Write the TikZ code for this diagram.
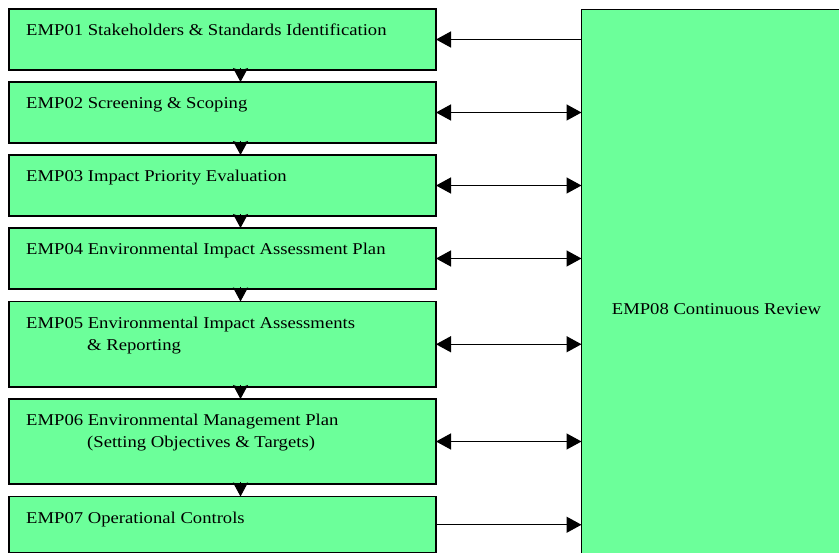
\documentclass[tikz,border=0pt]{standalone}
\usepackage{fontspec}
\setmainfont{Liberation Serif}[FakeStretch=1.13]
\usetikzlibrary{arrows.meta}
\definecolor{empgreen}{RGB}{108,255,154}
\tikzset{
  empbox/.style={draw=black, line width=1.5pt, fill=empgreen, minimum width=427pt,
    anchor=north west, inner sep=0pt, outer sep=0pt},
  emplabel/.style={anchor=north west, inner sep=0pt, align=left, xshift=17pt, yshift=-15pt,
    font=\fontsize{16.5}{22}\selectfont},
  hboth/.style={line width=1.4pt, {Triangle[length=15pt,width=16pt]}-{Triangle[length=15pt,width=16pt]}},
  hleft/.style={line width=1.4pt, {Triangle[length=15pt,width=16pt]}-},
  hright/.style={line width=1.4pt, -{Triangle[length=15pt,width=16pt]}},
  vdown/.style={line width=1pt, -{Stealth[length=14pt,width=15pt,inset=2.5pt]}}
}
\begin{document}
\begin{tikzpicture}[x=1pt,y=-1pt]
\useasboundingbox (0,0) rectangle (839,553);
\clip (0,0) rectangle (839,553);
\node[empbox, minimum height=61pt, label={[emplabel]north west:EMP01 Stakeholders \& Standards Identification}] (b1) at (9,9) {};
\node[empbox, minimum height=61pt, label={[emplabel]north west:EMP02 Screening \& Scoping}] (b2) at (9,82) {};
\node[empbox, minimum height=61pt, label={[emplabel]north west:EMP03 Impact Priority Evaluation}] (b3) at (9,155) {};
\node[empbox, minimum height=61pt, label={[emplabel]north west:EMP04 Environmental Impact Assessment Plan}] (b4) at (9,228) {};
\node[empbox, minimum height=85.5pt, label={[emplabel]north west:EMP05 Environmental Impact Assessments\\\hspace*{61pt}\& Reporting}] (b5) at (9,301.5) {};
\node[empbox, minimum height=85pt, label={[emplabel]north west:EMP06 Environmental Management Plan\\\hspace*{61pt}(Setting Objectives \& Targets)}] (b6) at (9,399) {};
\node[empbox, minimum height=56.5pt, label={[emplabel]north west:EMP07 Operational Controls}] (b7) at (9,496.5) {};
\node[draw=black, line width=1.5pt, fill=empgreen, anchor=north west, minimum width=270pt, minimum height=600pt,
  inner sep=0pt, outer sep=0pt, font=\fontsize{16.5}{22}\selectfont] (r) at (581.5,9.5) {EMP08 Continuous Review};
\coordinate (ax) at (240.5,0);
\foreach \a/\b in {b1/b2,b2/b3,b3/b4,b4/b5,b5/b6,b6/b7}
  \draw[vdown] ([yshift=2pt]\a.south -| ax) -- (\b.north -| ax);
\draw[hleft] (b1.east) -- (r.west |- b1.east);
\foreach \a in {b2,b3,b4,b5,b6}
  \draw[hboth] (\a.east) -- (r.west |- \a.east);
\draw[hright] (b7.east) -- (r.west |- b7.east);
\end{tikzpicture}
\end{document}
